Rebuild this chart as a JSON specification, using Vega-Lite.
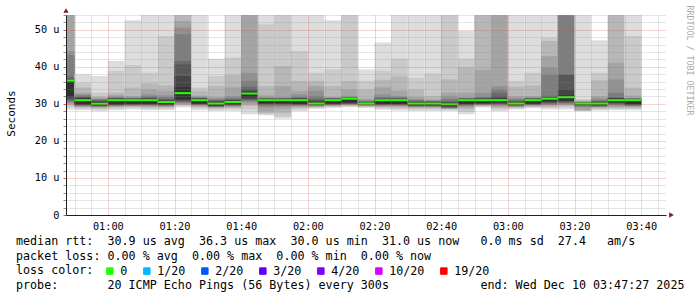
{
  "$schema": "https://vega.github.io/schema/vega-lite/v6.json",
  "width": 600,
  "height": 200,
  "autosize": {"type": "none"},
  "padding": {"left": 66, "top": 15, "right": 31, "bottom": 82},
  "background": "#ffffff",
  "config": {"view": {"stroke": null}, "font": "DejaVu Sans Mono"},
  "datasets": {
    "bars": [
      {"t":"2025-12-10T00:45:00","e":"2025-12-10T00:50:00","m":36.3,"loss":"0","k":[1,2,3,4,5,6,7,8,9,10],"hi":[60,60,60,60,44.3,43.2,37.4,36.8,36.6,36.4],"lo":[28.5,29.1,29.6,30.0,30.3,30.6,30.9,31.2,31.6,32.0]},
      {"t":"2025-12-10T00:50:00","e":"2025-12-10T00:55:00","m":31.0,"loss":"0","k":[1,2,3,4,5,6,7,8,9,10],"hi":[38.0,35.7,34.4,33.0,32.6,32.3,32.0,31.8,31.6,31.4],"lo":[28.3,28.7,29.0,29.2,29.4,29.5,29.6,29.7,29.8,29.9]},
      {"t":"2025-12-10T00:55:00","e":"2025-12-10T01:00:00","m":30.05,"loss":"0","k":[1,2,3,4,5,6,7,8,9,10],"hi":[37.5,33.0,32.0,31.7,31.4,31.2,31.0,30.8,30.6,30.4],"lo":[28.0,28.5,28.8,29.0,29.2,29.3,29.4,29.5,29.6,29.7]},
      {"t":"2025-12-10T01:00:00","e":"2025-12-10T01:05:00","m":31.0,"loss":"0","k":[1,2,3,4,5,6,7,8,9,10],"hi":[41.6,38.9,33.0,32.4,32.0,31.8,31.6,31.5,31.4,31.3],"lo":[28.3,28.7,29.0,29.2,29.4,29.5,29.6,29.7,29.8,29.9]},
      {"t":"2025-12-10T01:05:00","e":"2025-12-10T01:10:00","m":31.0,"loss":"0","k":[1,2,3,4,5,6,7,8,9,10],"hi":[52.6,40.5,34.4,32.1,31.8,31.6,31.5,31.4,31.3,31.2],"lo":[28.5,28.9,29.2,29.4,29.5,29.6,29.7,29.8,29.9,30.0]},
      {"t":"2025-12-10T01:10:00","e":"2025-12-10T01:15:00","m":31.0,"loss":"0","k":[1,2,3,4,5,6,7,8,9,10],"hi":[60,38.4,35.5,33.9,32.6,32.1,31.8,31.6,31.4,31.3],"lo":[28.3,28.7,29.0,29.3,29.5,29.6,29.7,29.8,29.9,30.0]},
      {"t":"2025-12-10T01:15:00","e":"2025-12-10T01:20:00","m":30.5,"loss":"0","k":[1,2,3,4,5,6,7,8,9,10],"hi":[60,48.3,35.0,33.5,32.3,31.8,31.4,31.1,30.9,30.8],"lo":[28.3,28.7,29.0,29.2,29.4,29.5,29.6,29.7,29.8,29.9]},
      {"t":"2025-12-10T01:20:00","e":"2025-12-10T01:25:00","m":32.9,"loss":"0","k":[1,2,3,4,5,6,7,8,9,10],"hi":[60,60,60,52.4,50.6,48.8,41.6,40.7,37.5,34.5],"lo":[29.0,29.4,29.7,29.9,30.1,30.3,30.5,30.8,31.0,31.2]},
      {"t":"2025-12-10T01:25:00","e":"2025-12-10T01:30:00","m":31.0,"loss":"0","k":[1,2,3,4,5,6,7,8,9,10],"hi":[60,34.4,33.5,32.2,31.9,31.7,31.6,31.5,31.4,31.3],"lo":[28.3,28.8,29.1,29.4,29.6,29.7,29.8,29.9,30.0,30.1]},
      {"t":"2025-12-10T01:30:00","e":"2025-12-10T01:35:00","m":30.1,"loss":"0","k":[1,2,3,4,5,6,7,8,9,10],"hi":[42.2,37.5,34.8,31.9,31.5,31.2,31.0,30.8,30.6,30.4],"lo":[28.1,28.5,28.8,29.0,29.1,29.2,29.3,29.4,29.5,29.6]},
      {"t":"2025-12-10T01:35:00","e":"2025-12-10T01:40:00","m":30.5,"loss":"0","k":[1,2,3,4,5,6,7,8,9,10],"hi":[60,42.5,37.8,34.5,32.1,31.6,31.3,31.1,30.9,30.8],"lo":[28.1,28.6,28.9,29.2,29.4,29.5,29.6,29.7,29.8,29.9]},
      {"t":"2025-12-10T01:40:00","e":"2025-12-10T01:45:00","m":32.8,"loss":"0","k":[1,2,3,4,5,6,7,8,9,10],"hi":[60,60,60,60,38.4,36.2,34.6,34.0,33.5,33.2],"lo":[27.2,28.5,29.5,30.0,30.4,30.8,31.0,31.2,31.5,31.8]},
      {"t":"2025-12-10T01:45:00","e":"2025-12-10T01:50:00","m":31.0,"loss":"0","k":[1,2,3,4,5,6,7,8,9,10],"hi":[60,51.5,34.8,32.3,31.8,31.6,31.5,31.4,31.3,31.2],"lo":[26.9,27.2,27.5,28.0,29.0,29.4,29.7,29.9,30.0,30.2]},
      {"t":"2025-12-10T01:50:00","e":"2025-12-10T01:55:00","m":31.0,"loss":"0","k":[1,2,3,4,5,6,7,8,9,10],"hi":[60,60,40.2,34.8,31.8,31.6,31.5,31.4,31.3,31.2],"lo":[26.0,26.5,27.5,28.5,29.2,29.5,29.7,29.9,30.0,30.2]},
      {"t":"2025-12-10T01:55:00","e":"2025-12-10T02:00:00","m":31.0,"loss":"0","k":[1,2,3,4,5,6,7,8,9,10],"hi":[60,44.3,36.2,33.5,32.6,31.9,31.7,31.5,31.4,31.3],"lo":[28.0,28.5,28.9,29.2,29.4,29.6,29.7,29.8,29.9,30.0]},
      {"t":"2025-12-10T02:00:00","e":"2025-12-10T02:05:00","m":30.1,"loss":"0","k":[1,2,3,4,5,6,7,8,9,10],"hi":[60,38.4,36.2,34.8,33.5,32.1,31.4,31.0,30.7,30.5],"lo":[28.7,28.9,29.1,29.3,29.4,29.5,29.6,29.7,29.8,29.9]},
      {"t":"2025-12-10T02:05:00","e":"2025-12-10T02:10:00","m":31.0,"loss":"0","k":[1,2,3,4,5,6,7,8,9,10],"hi":[52.6,39.3,34.8,31.9,31.7,31.6,31.5,31.4,31.3,31.2],"lo":[28.9,29.2,29.4,29.5,29.6,29.7,29.8,29.9,30.0,30.1]},
      {"t":"2025-12-10T02:10:00","e":"2025-12-10T02:15:00","m":31.4,"loss":"0","k":[1,2,3,4,5,6,7,8,9,10],"hi":[60,60,36.2,33.9,32.0,31.9,31.8,31.7,31.6,31.5],"lo":[29.1,29.3,29.5,29.7,29.8,29.9,30.0,30.1,30.2,30.4]},
      {"t":"2025-12-10T02:15:00","e":"2025-12-10T02:20:00","m":30.1,"loss":"0","k":[1,2,3,4,5,6,7,8,9,10],"hi":[39.3,36.2,33.9,31.4,31.0,30.8,30.6,30.5,30.4,30.3],"lo":[28.9,29.1,29.3,29.4,29.5,29.6,29.7,29.8,29.9,29.95]},
      {"t":"2025-12-10T02:20:00","e":"2025-12-10T02:25:00","m":31.0,"loss":"0","k":[1,2,3,4,5,6,7,8,9,10],"hi":[46.6,39.0,36.5,34.5,32.6,31.9,31.6,31.4,31.3,31.2],"lo":[28.4,28.8,29.1,29.3,29.5,29.6,29.7,29.8,29.9,30.0]},
      {"t":"2025-12-10T02:25:00","e":"2025-12-10T02:30:00","m":31.0,"loss":"0","k":[1,2,3,4,5,6,7,8,9,10],"hi":[60,42.2,37.5,33.5,32.1,31.8,31.6,31.4,31.3,31.2],"lo":[28.2,28.6,29.0,29.3,29.5,29.6,29.7,29.8,29.9,30.0]},
      {"t":"2025-12-10T02:30:00","e":"2025-12-10T02:35:00","m":30.1,"loss":"0","k":[1,2,3,4,5,6,7,8,9,10],"hi":[60,37.0,33.9,31.9,31.3,31.0,30.8,30.6,30.5,30.4],"lo":[28.1,28.5,28.8,29.0,29.2,29.3,29.4,29.5,29.6,29.7]},
      {"t":"2025-12-10T02:35:00","e":"2025-12-10T02:40:00","m":30.1,"loss":"0","k":[1,2,3,4,5,6,7,8,9,10],"hi":[60,38.2,32.1,31.2,30.9,30.8,30.7,30.6,30.5,30.4],"lo":[28.1,28.5,28.8,29.0,29.2,29.3,29.4,29.5,29.6,29.7]},
      {"t":"2025-12-10T02:40:00","e":"2025-12-10T02:45:00","m":29.9,"loss":"0","k":[1,2,3,4,5,6,7,8,9,10],"hi":[60,60,36.6,33.0,32.0,31.3,30.8,30.5,30.3,30.2],"lo":[28.1,28.4,28.6,28.7,28.8,28.9,29.0,29.1,29.3,29.5]},
      {"t":"2025-12-10T02:45:00","e":"2025-12-10T02:50:00","m":31.0,"loss":"0","k":[1,2,3,4,5,6,7,8,9,10],"hi":[49.7,42.2,39.8,33.0,31.7,31.6,31.5,31.4,31.3,31.2],"lo":[27.2,27.8,28.5,29.0,29.3,29.5,29.7,29.8,29.9,30.0]},
      {"t":"2025-12-10T02:50:00","e":"2025-12-10T02:55:00","m":31.0,"loss":"0","k":[1,2,3,4,5,6,7,8,9,10],"hi":[60,60,60,39.2,33.0,31.9,31.7,31.5,31.4,31.3],"lo":[29.0,29.2,29.4,29.6,29.7,29.8,29.9,30.0,30.1,30.2]},
      {"t":"2025-12-10T02:55:00","e":"2025-12-10T03:00:00","m":31.0,"loss":"0","k":[1,2,3,4,5,6,7,8,9,10],"hi":[60,60,60,60,34.8,33.9,33.0,32.1,31.6,31.3],"lo":[28.0,28.5,28.9,29.2,29.5,29.7,29.9,30.0,30.2,30.4]},
      {"t":"2025-12-10T03:00:00","e":"2025-12-10T03:05:00","m":30.1,"loss":"0","k":[1,2,3,4,5,6,7,8,9,10],"hi":[60,36.2,34.6,32.1,31.6,31.2,30.9,30.7,30.5,30.4],"lo":[28.5,28.8,29.0,29.2,29.3,29.4,29.5,29.6,29.7,29.8]},
      {"t":"2025-12-10T03:05:00","e":"2025-12-10T03:10:00","m":31.0,"loss":"0","k":[1,2,3,4,5,6,7,8,9,10],"hi":[60,38.4,35.0,32.1,31.8,31.6,31.5,31.4,31.3,31.2],"lo":[28.8,29.1,29.3,29.5,29.6,29.7,29.8,29.9,30.0,30.1]},
      {"t":"2025-12-10T03:10:00","e":"2025-12-10T03:15:00","m":31.4,"loss":"0","k":[1,2,3,4,5,6,7,8,9,10],"hi":[60,47.9,47.0,42.9,39.8,37.9,32.2,31.9,31.7,31.6],"lo":[28.5,28.9,29.2,29.5,29.7,29.9,30.1,30.3,30.5,30.7]},
      {"t":"2025-12-10T03:15:00","e":"2025-12-10T03:20:00","m":31.8,"loss":"0","k":[1,2,3,4,5,6,7,8,9,10],"hi":[60,60,60,60,60,60,37.9,37.9,33.9,32.3],"lo":[28.5,29.0,29.4,29.7,29.9,30.1,30.3,30.5,30.7,30.9]},
      {"t":"2025-12-10T03:20:00","e":"2025-12-10T03:25:00","m":30.1,"loss":"0","k":[1,2,3,4,5,6,7,8,9,10],"hi":[60,31.2,31.0,30.8,30.6,30.5,30.4,30.35,30.3,30.25],"lo":[28.0,28.1,28.2,28.3,29.0,29.3,29.5,29.6,29.7,29.8]},
      {"t":"2025-12-10T03:25:00","e":"2025-12-10T03:30:00","m":30.1,"loss":"0","k":[1,2,3,4,5,6,7,8,9,10],"hi":[47.2,38.4,36.4,32.1,31.5,31.0,30.8,30.6,30.5,30.4],"lo":[28.2,28.5,28.8,29.0,29.2,29.3,29.4,29.5,29.6,29.7]},
      {"t":"2025-12-10T03:30:00","e":"2025-12-10T03:35:00","m":31.0,"loss":"0","k":[1,2,3,4,5,6,7,8,9,10],"hi":[60,60,60,41.1,36.6,33.0,31.8,31.6,31.5,31.4],"lo":[28.3,28.6,28.9,29.2,29.5,29.7,29.9,30.1,30.3,30.5]},
      {"t":"2025-12-10T03:35:00","e":"2025-12-10T03:40:00","m":31.0,"loss":"0","k":[1,2,3,4,5,6,7,8,9,10],"hi":[60,48.3,34.4,32.2,31.6,31.5,31.4,31.35,31.3,31.25],"lo":[28.3,28.6,28.9,29.2,29.4,29.5,29.6,29.7,29.8,30.0]}
    ],
    "arrows": [
      {"t":"2025-12-10T00:47:27","v":55.2,"dir":"up"},
      {"t":"2025-12-10T03:49:06","v":0,"dir":"right"}
    ]
  },
  "resolve": {"axis": {"x": "independent", "y": "independent"}},
  "layer": [
    {
      "data": {"name": "bars"},
      "transform": [
        {"flatten": ["k", "hi", "lo"]}
      ],
      "mark": {"type": "rect", "clip": true},
      "encoding": {
        "x": {
          "field": "t", "type": "temporal",
          "scale": {"domain": [{"year":2025,"month":12,"date":10,"hours":0,"minutes":47,"seconds":27},{"year":2025,"month":12,"date":10,"hours":3,"minutes":47,"seconds":27}], "nice": false},
          "axis": {
            "orient": "bottom",
            "values": [
              {"year":2025,"month":12,"date":10,"hours":0,"minutes":50},{"year":2025,"month":12,"date":10,"hours":0,"minutes":55},
              {"year":2025,"month":12,"date":10,"hours":1,"minutes":0},{"year":2025,"month":12,"date":10,"hours":1,"minutes":5},
              {"year":2025,"month":12,"date":10,"hours":1,"minutes":10},{"year":2025,"month":12,"date":10,"hours":1,"minutes":15},
              {"year":2025,"month":12,"date":10,"hours":1,"minutes":20},{"year":2025,"month":12,"date":10,"hours":1,"minutes":25},
              {"year":2025,"month":12,"date":10,"hours":1,"minutes":30},{"year":2025,"month":12,"date":10,"hours":1,"minutes":35},
              {"year":2025,"month":12,"date":10,"hours":1,"minutes":40},{"year":2025,"month":12,"date":10,"hours":1,"minutes":45},
              {"year":2025,"month":12,"date":10,"hours":1,"minutes":50},{"year":2025,"month":12,"date":10,"hours":1,"minutes":55},
              {"year":2025,"month":12,"date":10,"hours":2,"minutes":0},{"year":2025,"month":12,"date":10,"hours":2,"minutes":5},
              {"year":2025,"month":12,"date":10,"hours":2,"minutes":10},{"year":2025,"month":12,"date":10,"hours":2,"minutes":15},
              {"year":2025,"month":12,"date":10,"hours":2,"minutes":20},{"year":2025,"month":12,"date":10,"hours":2,"minutes":25},
              {"year":2025,"month":12,"date":10,"hours":2,"minutes":30},{"year":2025,"month":12,"date":10,"hours":2,"minutes":35},
              {"year":2025,"month":12,"date":10,"hours":2,"minutes":40},{"year":2025,"month":12,"date":10,"hours":2,"minutes":45},
              {"year":2025,"month":12,"date":10,"hours":2,"minutes":50},{"year":2025,"month":12,"date":10,"hours":2,"minutes":55},
              {"year":2025,"month":12,"date":10,"hours":3,"minutes":0},{"year":2025,"month":12,"date":10,"hours":3,"minutes":5},
              {"year":2025,"month":12,"date":10,"hours":3,"minutes":10},{"year":2025,"month":12,"date":10,"hours":3,"minutes":15},
              {"year":2025,"month":12,"date":10,"hours":3,"minutes":20},{"year":2025,"month":12,"date":10,"hours":3,"minutes":25},
              {"year":2025,"month":12,"date":10,"hours":3,"minutes":30},{"year":2025,"month":12,"date":10,"hours":3,"minutes":35},
              {"year":2025,"month":12,"date":10,"hours":3,"minutes":40},{"year":2025,"month":12,"date":10,"hours":3,"minutes":45}
            ],
            "grid": true,
            "gridDash": [1, 1],
            "gridWidth": 1,
            "gridColor": {"condition": {"test": "minutes(datum.value) % 20 === 0", "value": "#de4f4f"}, "value": "#8f8f8f"},
            "gridOpacity": {"condition": {"test": "minutes(datum.value) % 20 === 0", "value": 0.5}, "value": 0.45},
            "labelExpr": "minutes(datum.value) % 20 === 0 ? timeFormat(datum.value, '%H:%M') : ''",
            "labelOverlap": false,
            "labelFlush": false,
            "labelFont": "DejaVu Sans Mono",
            "labelFontSize": 10.25,
            "labelColor": "#000000",
            "labelPadding": 6,
            "labelBaseline": "top",
            "ticks": false,
            "domain": true,
            "domainColor": "#1f1f1f",
            "domainWidth": 1,
            "zindex": 1,
            "title": [
              "median\u00a0rtt:\u00a0\u00a030.9\u00a0us\u00a0avg\u00a0\u00a036.3\u00a0us\u00a0max\u00a0\u00a030.0\u00a0us\u00a0min\u00a0\u00a031.0\u00a0us\u00a0now\u00a0\u00a0\u00a00.0\u00a0ms\u00a0sd\u00a0\u00a027.4\u00a0\u00a0\u00a0am/s",
              "packet\u00a0loss:\u00a00.00\u00a0%\u00a0avg\u00a0\u00a00.00\u00a0%\u00a0max\u00a0\u00a00.00\u00a0%\u00a0min\u00a0\u00a00.00\u00a0%\u00a0now",
              "loss\u00a0color:",
              "probe:\u00a0\u00a0\u00a0\u00a0\u00a0\u00a0\u00a020\u00a0ICMP\u00a0Echo\u00a0Pings\u00a0(56\u00a0Bytes)\u00a0every\u00a0300s\u00a0\u00a0\u00a0\u00a0\u00a0\u00a0\u00a0\u00a0\u00a0\u00a0\u00a0\u00a0\u00a0end:\u00a0Wed\u00a0Dec\u00a010\u00a003:47:27\u00a02025"
            ],
            "titleFont": "DejaVu Sans Mono",
            "titleFontSize": 11.7,
            "titleFontWeight": "normal",
            "titleColor": "#000000",
            "titleX": -50.5,
            "titleY": 29.5,
            "titleAlign": "left",
            "titleBaseline": "alphabetic",
            "titleLineHeight": 14.7
          }
        },
        "x2": {"field": "e"},
        "y": {
          "field": "lo", "type": "quantitative",
          "scale": {"domain": [0, 54], "nice": false, "zero": true},
          "axis": {
            "orient": "left",
            "values": [0,2,4,6,8,10,12,14,16,18,20,22,24,26,28,30,32,34,36,38,40,42,44,46,48,50,52,54],
            "grid": true,
            "gridDash": [1, 1],
            "gridWidth": 1,
            "gridColor": {"condition": {"test": "datum.value % 10 === 0", "value": "#de4f4f"}, "value": "#8f8f8f"},
            "gridOpacity": {"condition": {"test": "datum.value % 10 === 0", "value": 0.5}, "value": 0.45},
            "labelExpr": "datum.value % 10 === 0 ? (datum.value === 0 ? '0\u00a0\u00a0' : datum.value + '\u00a0u') : ''",
            "labelOverlap": false,
            "labelFlush": false,
            "labelFont": "DejaVu Sans Mono",
            "labelFontSize": 10.25,
            "labelColor": "#000000",
            "labelPadding": 4,
            "ticks": true,
            "tickSize": 3,
            "tickColor": {"condition": {"test": "datum.value % 10 === 0", "value": "#de4f4f"}, "value": "#8f8f8f"},
            "domain": true,
            "domainColor": "#1f1f1f",
            "domainWidth": 1,
            "zindex": 1,
            "title": "Seconds",
            "titleFont": "DejaVu Sans Mono",
            "titleFontSize": 11,
            "titleFontWeight": "normal",
            "titleColor": "#000000",
            "titleAngle": 270,
            "titleX": -55,
            "titleY": 98,
            "titleAlign": "center",
            "titleBaseline": "middle"
          }
        },
        "y2": {"field": "hi"},
        "fill": {
          "field": "k", "type": "ordinal",
          "scale": {"domain": [1,2,3,4,5,6,7,8,9,10], "range": ["#dddddd","#cacaca","#b7b7b7","#a4a4a4","#919191","#7e7e7e","#6b6b6b","#585858","#454545","#323232"]},
          "legend": null
        }
      }
    },
    {
      "data": {"name": "bars"},
      "mark": {"type": "rule", "strokeWidth": 2, "strokeCap": "butt", "clip": true},
      "encoding": {
        "x": {"field": "t", "type": "temporal", "axis": null},
        "x2": {"field": "e"},
        "y": {"field": "m", "type": "quantitative", "axis": null},
        "color": {
          "field": "loss", "type": "nominal",
          "scale": {"domain": ["0","1/20","2/20","3/20","4/20","10/20","19/20"], "range": ["#26ff00","#00b8ff","#0059ff","#5e00ff","#7e00ff","#dd00ff","#ff0000"]},
          "legend": {
            "orient": "none",
            "legendX": 38,
            "legendY": 250,
            "direction": "horizontal",
            "title": null,
            "padding": 0,
            "symbolType": "square",
            "symbolSize": 42,
            "symbolStrokeWidth": 1,
            "symbolStrokeColor": "#000000",
            "labelFont": "DejaVu Sans Mono",
            "labelFontSize": 11.7,
            "labelColor": "#000000",
            "labelOffset": 4.5,
            "columnPadding": 13,
            "encode": {
              "symbols": {
                "update": {
                  "fill": {"scale": "color", "field": "value"},
                  "stroke": {"value": "#000000"},
                  "strokeWidth": {"value": 1},
                  "opacity": {"value": 1}
                }
              }
            }
          }
        }
      }
    },
    {
      "data": {"name": "arrows"},
      "mark": {"type": "point", "filled": true, "opacity": 1, "size": 28, "color": "#801f1f", "clip": false},
      "encoding": {
        "x": {"field": "t", "type": "temporal", "axis": null},
        "y": {
          "field": "v", "type": "quantitative",
          "axis": {
            "orient": "right",
            "labels": false,
            "ticks": false,
            "domain": false,
            "grid": false,
            "title": "RRDTOOL\u00a0/\u00a0TOBI\u00a0OETIKER",
            "titleFont": "DejaVu Sans Mono",
            "titleFontSize": 8.3,
            "titleFontWeight": "normal",
            "titleColor": "#aaaaaa",
            "titleAngle": 90,
            "titleX": 22.5,
            "titleY": 45,
            "titleAlign": "center",
            "titleBaseline": "middle"
          }
        },
        "shape": {
          "field": "dir", "type": "nominal",
          "scale": {"domain": ["up","right"], "range": ["triangle-up","triangle-right"]},
          "legend": null
        }
      }
    }
  ]
}
